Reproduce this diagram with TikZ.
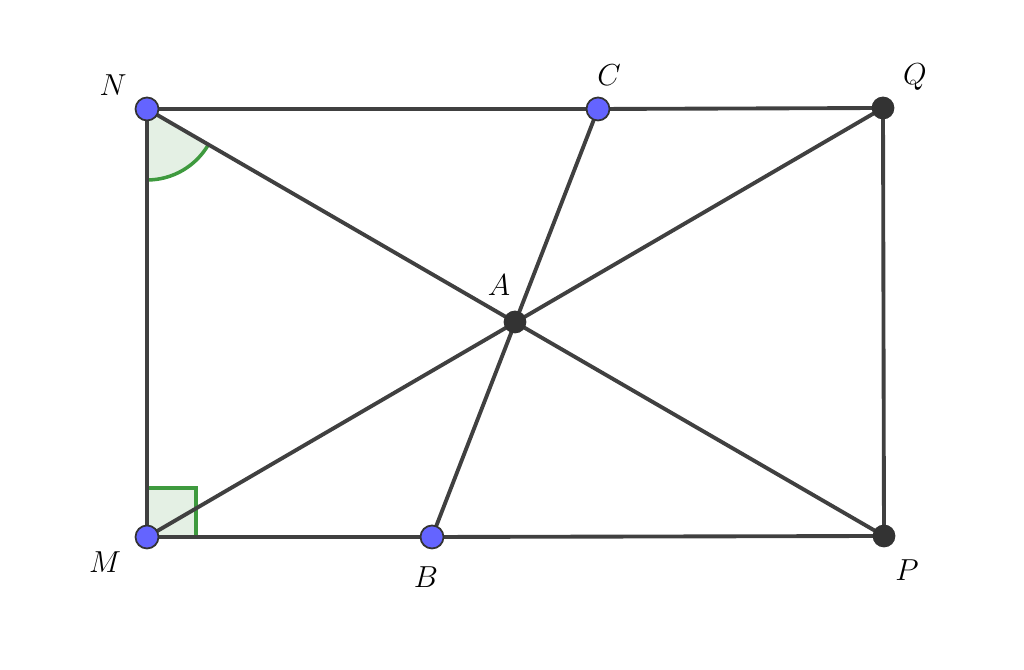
\documentclass[tikz,border=0pt]{standalone}
\usetikzlibrary{calc}
\definecolor{segcol}{HTML}{404040}
\definecolor{freept}{HTML}{6464FF}
\definecolor{fixpt}{HTML}{333333}
\definecolor{angline}{HTML}{3E9A3E}
\definecolor{angfill}{HTML}{E4F0E4}
\tikzset{
	seg/.style={draw=segcol, line width=2.2pt},
	freedot/.style={circle, fill=freept, draw=black!80, line width=1pt, inner sep=0pt, minimum size=0.46cm},
	fixdot/.style={circle, fill=fixpt, draw=black!80, line width=1pt, inner sep=0pt, minimum size=0.42cm},
	lbl/.style={font=\fontsize{18}{20}\selectfont}
}
\begin{document}
\begin{tikzpicture}
			\useasboundingbox (0,0) rectangle (20.48,13.4);

			\coordinate (N) at (2.94, 11.22);
			\coordinate (C) at (11.96, 11.22);
			\coordinate (Q) at (17.66, 11.24);
			\coordinate (M) at (2.94, 2.66);
			\coordinate (B) at (8.64, 2.66);
			\coordinate (P) at (17.68, 2.68);
			\coordinate (A) at (10.30, 6.96);

			% angle marks
			\fill[angfill] (N) -- ++(-90:1.42) arc (-90:-30:1.42) -- cycle;
			\draw[angline, line width=2pt] ($(N)+(-90:1.42)$) arc (-90:-30:1.42);
			\filldraw[fill=angfill, draw=angline, line width=2pt] (M) rectangle ++(0.98,0.98);

			% sides and diagonals
			\draw[seg] (N) -- (C);
			\draw[seg] (C) -- (Q);
			\draw[seg] (Q) -- (P);
			\draw[seg] (P) -- (B);
			\draw[seg] (B) -- (M);
			\draw[seg] (M) -- (N);
			\draw[seg] (N) -- (P);
			\draw[seg] (M) -- (Q);
			\draw[seg] (C) -- (B);

			% points
			\node[freedot] (n) at (N) {};
			\node[freedot] (c) at (C) {};
			\node[freedot] (m) at (M) {};
			\node[freedot] (b) at (B) {};
			\node[fixdot] (q) at (Q) {};
			\node[fixdot] (p) at (P) {};
			\node[fixdot] (a) at (A) {};

			\node[lbl] (ln) at (2.26, 11.7){$N$};
			\node[lbl] (lc) at (12.18, 11.9){$C$};
			\node[lbl] (lq) at (18.3, 11.86){$Q$};
			\node[lbl] (la) at (9.98, 7.7){$A$};
			\node[lbl] (lm) at (2.1, 2.16){$M$};
			\node[lbl] (lb) at (8.52, 1.86){$B$};
			\node[lbl] (lp) at (18.14, 2.0){$P$};

		\end{tikzpicture}
\end{document}
